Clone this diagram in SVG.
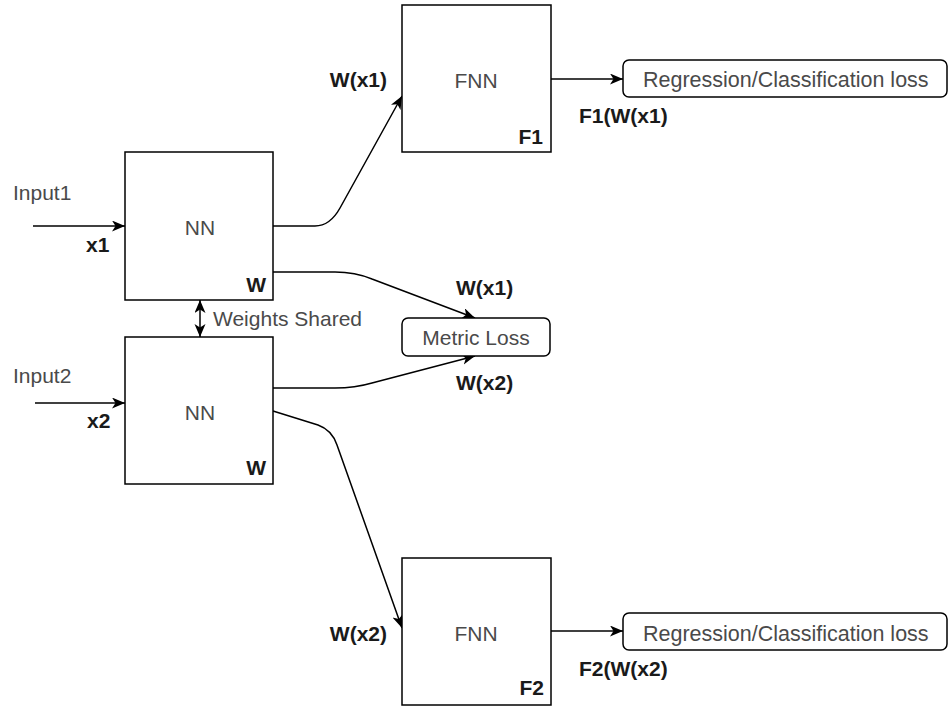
<svg xmlns="http://www.w3.org/2000/svg" width="949" height="706" viewBox="0 0 949 706">
<style>
.box{fill:#fff;stroke:#000;stroke-width:1.5}
.rbox{fill:#fff;stroke:#000;stroke-width:1.5}
.t{font-family:"Liberation Sans",Arial,sans-serif;font-size:21px;fill:#4a4a4a}
.b{font-family:"Liberation Sans",Arial,sans-serif;font-size:21px;font-weight:bold;fill:#1a1a1a}
.c{text-anchor:middle}
.e{text-anchor:end}
.l{font-size:21.5px}
.edge{fill:none;stroke:#000;stroke-width:1.5}
</style>
<defs>
<marker id="ah" markerUnits="userSpaceOnUse" markerWidth="14" markerHeight="12" refX="13" refY="5.5" orient="auto">
<path d="M0,0 L13,5.5 L0,11 L3.5,5.5 z" fill="#000"/>
</marker>
<marker id="ahs" markerUnits="userSpaceOnUse" markerWidth="14" markerHeight="12" refX="13" refY="5.5" orient="auto-start-reverse">
<path d="M0,0 L13,5.5 L0,11 L3.5,5.5 z" fill="#000"/>
</marker>
</defs>
<rect width="949" height="706" fill="#fff"/>
<g id="connectors">
<path class="edge" d="M33,226 L125,226" marker-end="url(#ah)"/>
<path class="edge" d="M35,403 L125,403" marker-end="url(#ah)"/>
<path class="edge" d="M200,300 L200,337" marker-start="url(#ahs)" marker-end="url(#ahs)"/>
<path class="edge" d="M273,226 L315,226 Q330,226 340,208 L402,96" marker-end="url(#ah)"/>
<path class="edge" d="M273,272 L335,272 Q355,272 372,279 L475,318" marker-end="url(#ah)"/>
<path class="edge" d="M273,388 L335,388 Q355,388 372,383 L475,356" marker-end="url(#ah)"/>
<path class="edge" d="M273,411 L318,425 Q332,430 337,445 L402,628" marker-end="url(#ah)"/>
<path class="edge" d="M551,79 L623,79" marker-end="url(#ah)"/>
<path class="edge" d="M551,631 L623,631" marker-end="url(#ah)"/>
</g>
<g id="labels">
<text class="t" x="13" y="199.5">Input1</text>
<text class="b" x="86" y="251.5">x1</text>
<text class="t" x="13" y="382.5">Input2</text>
<text class="b" x="87" y="427.5">x2</text>
<text class="t" x="213" y="325.5">Weights Shared</text>
<text class="b" x="456" y="294.5">W(x1)</text>
<text class="b" x="456" y="390">W(x2)</text>
<text class="b e" x="387" y="86.5">W(x1)</text>
<text class="b e" x="387" y="640.5">W(x2)</text>
<text class="b" x="579" y="122.5">F1(W(x1)</text>
<text class="b" x="579" y="675.5">F2(W(x2)</text>
</g>
<g id="nn1">
<rect class="box" x="125" y="152" width="148" height="148"/>
<text class="t c" x="200" y="234.5">NN</text>
<text class="b e" x="266" y="292">W</text>
</g>
<g id="nn2">
<rect class="box" x="125" y="337" width="148" height="147"/>
<text class="t c" x="200" y="419.5">NN</text>
<text class="b e" x="266" y="474.5">W</text>
</g>
<g id="fnn1">
<rect class="box" x="402" y="5" width="149" height="147"/>
<text class="t c" x="476" y="87.5">FNN</text>
<text class="b e" x="543" y="143.5">F1</text>
</g>
<g id="fnn2">
<rect class="box" x="402" y="558" width="149" height="147"/>
<text class="t c" x="476" y="640.5">FNN</text>
<text class="b e" x="544" y="695">F2</text>
</g>
<g id="metric">
<rect class="rbox" x="402" y="318" width="148" height="38" rx="6"/>
<text class="t c" x="476" y="344.5">Metric Loss</text>
</g>
<g id="loss1">
<rect class="rbox" x="623" y="60" width="324" height="37" rx="6"/>
<text class="t l" x="643" y="86.5">Regression/Classification loss</text>
</g>
<g id="loss2">
<rect class="rbox" x="623" y="613" width="324" height="37" rx="6"/>
<text class="t l" x="643" y="640.5">Regression/Classification loss</text>
</g>
</svg>
